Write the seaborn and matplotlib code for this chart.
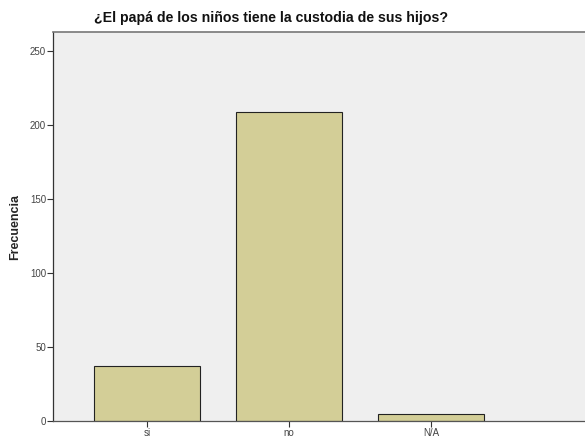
import matplotlib
matplotlib.use("Agg")
import matplotlib.pyplot as plt
import seaborn as sns
import pandas as pd

categories = ["si", "no", "N/A"]
counts = [37, 209, 5]
y_ticks = [0, 50, 100, 150, 200, 250]

sns.set_theme(style="white")
plt.rcParams["font.family"] = ["Liberation Sans", "DejaVu Sans"]

df = pd.DataFrame({"respuesta": categories, "Frecuencia": counts})

fig = plt.figure(figsize=(5.85, 4.38), dpi=100)
ax = fig.add_axes([53 / 585, 17 / 438, 1 - 53 / 585, (421 - 32) / 438])
ax.set_facecolor("#EFEFEF")

sns.barplot(data=df, x="respuesta", y="Frecuencia", order=categories,
            color="#D3CE97", saturation=1, width=0.746,
            edgecolor="#222222", linewidth=0.8, ax=ax)

ax.set_xlim(-0.662, 3.085)
ax.set_ylim(0, 262.8)
ax.set_yticks(y_ticks)
ax.set_yticklabels([str(t) for t in y_ticks])
ax.set_xlabel("")
ax.set_ylabel("Frecuencia", fontsize=9, fontweight="bold", labelpad=6)

ax.tick_params(axis="both", which="both", direction="out", length=4,
               width=0.8, colors="#333333", labelsize=7, labelcolor="#444444",
               pad=1, bottom=True, left=True)

for side in ["top", "left", "bottom"]:
    ax.spines[side].set_visible(True)
ax.spines["right"].set_visible(False)
ax.spines["left"].set_color("#333333")
ax.spines["bottom"].set_color("#555555")
ax.spines["top"].set_color("#777777")
ax.spines["left"].set_linewidth(0.9)
ax.spines["bottom"].set_linewidth(0.9)
ax.spines["top"].set_linewidth(1.2)

fig.text(271 / 585, 1 - 18 / 438, "¿El papá de los niños tiene la custodia de sus hijos?",
         ha="center", va="center", fontsize=10.2, fontweight="bold", color="#111111")

fig.savefig("out.png", dpi=100)
